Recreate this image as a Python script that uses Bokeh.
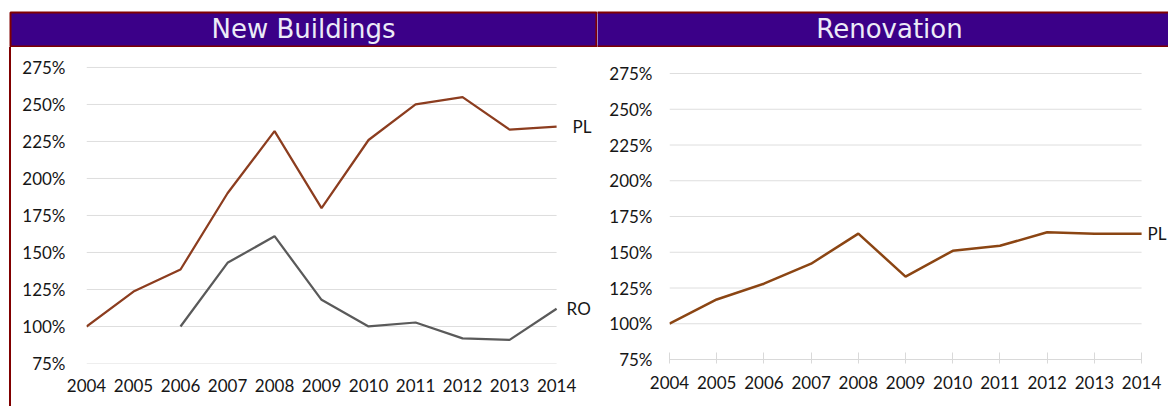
from bokeh.plotting import figure
from bokeh.layouts import row, column
from bokeh.models import Range1d, FixedTicker, PrintfTickFormatter, Label, Spacer
from bokeh.core.properties import value
from bokeh.embed import file_html
from bokeh.resources import INLINE

# ---- data ----
years = [2004, 2005, 2006, 2007, 2008, 2009, 2010, 2011, 2012, 2013, 2014]
new_pl = [100, 123.6, 138.5, 190, 232, 180, 226, 250, 255, 233, 235]
ro_years = [2006, 2007, 2008, 2009, 2010, 2011, 2012, 2013, 2014]
new_ro = [100, 143, 161, 118, 100, 102.7, 92, 91, 112]
reno_pl = [100, 117, 128, 142, 163, 133, 151, 154.5, 164, 163, 163]
y_ticks = [75, 100, 125, 150, 175, 200, 225, 250, 275]
titles = ["New Buildings", "Renovation"]
series_labels = ["PL", "RO", "PL"]

# ---- styles ----
HDR_FILL = "#3b0088"
HDR_LINE = "#800000"
FONT = "Lato"
TICK_COLOR = "#161616"
GRID_COLOR = "#dedede"
PL_COLOR = "#8c3d1f"
RO_COLOR = "#5a5a5a"
RENO_COLOR = "#8b4513"


def header(title, w, h, left, right, tx):
    p = figure(width=w, height=h, x_range=Range1d(0, w), y_range=Range1d(0, h),
               output_backend="svg", toolbar_location=None,
               x_axis_type=None, y_axis_type=None,
               min_border=0, min_border_left=0, min_border_right=0,
               min_border_top=0, min_border_bottom=0)
    p.grid.visible = False
    p.outline_line_color = None
    p.quad(left=[left], right=[right], bottom=[1], top=[35],
           fill_color=HDR_FILL, line_color=HDR_LINE, line_width=2)
    p.text(x=[tx], y=[18.5], text=[title], text_align="center", text_baseline="middle",
           text_font=value("DejaVu Sans"), text_font_size="26px", text_color="#ecebf7")
    return p


def chart(w, h, bl, bt, bb, xend, ytop, y_standoff, x_standoff, grid_ticks):
    p = figure(width=w, height=h, x_range=Range1d(years[0], xend), y_range=Range1d(75, ytop),
               output_backend="svg", toolbar_location=None,
               min_border_left=bl, min_border_right=0, min_border_top=bt, min_border_bottom=bb)
    p.outline_line_color = None
    p.grid.visible = False
    # horizontal gridlines spanning only the category extent (2004..2014)
    p.segment(x0=[years[0]] * len(grid_ticks), x1=[years[-1]] * len(grid_ticks),
              y0=grid_ticks, y1=grid_ticks, line_color=GRID_COLOR, line_width=1)
    p.yaxis.ticker = FixedTicker(ticks=y_ticks)
    p.yaxis.formatter = PrintfTickFormatter(format="%d%%")
    p.yaxis.axis_line_color = None
    p.yaxis.major_tick_line_color = None
    p.yaxis.minor_tick_line_color = None
    p.yaxis.major_label_standoff = y_standoff
    p.xaxis.ticker = FixedTicker(ticks=years)
    p.xaxis.bounds = (years[0], years[-1])
    p.xaxis.minor_tick_line_color = None
    p.xaxis.major_label_standoff = x_standoff
    for ax in (p.xaxis, p.yaxis):
        ax.major_label_text_font = FONT
        ax.major_label_text_font_size = "17px"
        ax.major_label_text_color = TICK_COLOR
    return p


# ---- left panel ----
hl = header(titles[0], 597, 47, 10, 596, 303)
cl = chart(586, 359, 75, 13, 43, 2014.87, 279.7, 15, 9, y_ticks)
cl.xaxis.axis_line_color = None
cl.xaxis.major_tick_line_color = None
cl.line(years, new_pl, line_color=PL_COLOR, line_width=2.25)
cl.line(ro_years, new_ro, line_color=RO_COLOR, line_width=2.25)
cl.add_layout(Label(x=years[-1], y=new_pl[-1], x_offset=16, text=series_labels[0],
                    text_baseline="middle", text_font=FONT, text_font_size="17px",
                    text_color=TICK_COLOR))
cl.add_layout(Label(x=ro_years[-1], y=new_ro[-1], x_offset=10, text=series_labels[1],
                    text_baseline="middle", text_font=FONT, text_font_size="17px",
                    text_color=TICK_COLOR))

edge_white = Spacer(width=9, height=359)
edge_red = Spacer(width=2, height=359, styles={"background-color": HDR_LINE})
left = column(hl, row(edge_white, edge_red, cl))

# ---- right panel ----
hr = header(titles[1], 571, 47, -3, 575, 292)
cr = chart(571, 359, 72, 19, 47, 2014.57, 279.9, 11, 12, y_ticks[1:])
cr.xaxis.axis_line_color = "#d9d9d9"
cr.xaxis.major_tick_line_color = "#d9d9d9"
cr.xaxis.major_tick_in = 7
cr.xaxis.major_tick_out = 4
cr.line(years, reno_pl, line_color=RENO_COLOR, line_width=2.5)
cr.add_layout(Label(x=years[-1], y=reno_pl[-1], x_offset=6, text=series_labels[2],
                    text_baseline="middle", text_font=FONT, text_font_size="17px",
                    text_color=TICK_COLOR))
right = column(hr, row(cr))

layout = row(left, right)

open("out.html", "w").write(file_html(layout, INLINE))
